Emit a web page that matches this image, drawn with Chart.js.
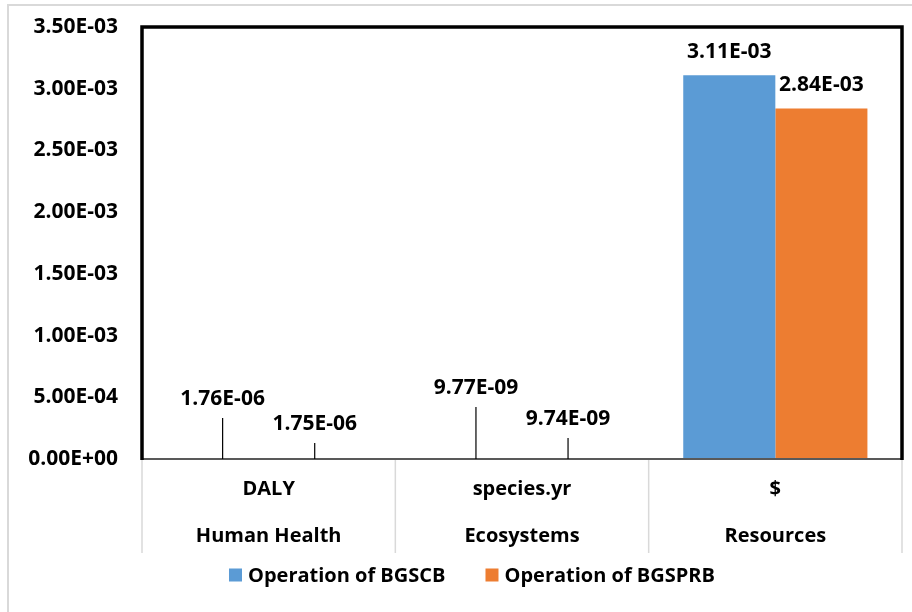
<!DOCTYPE html>
<html>
<head>
<meta charset="utf-8">
<script src="https://cdn.jsdelivr.net/npm/chart.js@4.4.1/dist/chart.umd.min.js"></script>
<style>
  html, body { margin: 0; padding: 0; background: #fff; }
</style>
</head>
<body>
<canvas id="myChart" width="912" height="612"></canvas>
<script>
const units = ['DALY', 'species.yr', '$'];
const categories = ['Human Health', 'Ecosystems', 'Resources'];
const bgscb = [1.76e-6, 9.77e-9, 3.11e-3];
const bgsprb = [1.75e-6, 9.74e-9, 2.84e-3];
const yTicks = [0, 5e-4, 1e-3, 1.5e-3, 2e-3, 2.5e-3, 3e-3, 3.5e-3];

const FONT = '"Open Sans", "Liberation Sans", sans-serif';

function sci(v) {
  if (Math.abs(v) < 1e-15) return '0.00E+00';
  let e = Math.floor(Math.log10(Math.abs(v)));
  let m = v / Math.pow(10, e);
  if (m.toFixed(2) === '10.00') { m = m / 10; e++; }
  return m.toFixed(2) + 'E' + (e < 0 ? '-' : '+') + String(Math.abs(e)).padStart(2, '0');
}

// leader-line lengths for the tiny values (px): [dataset][category]
const leaders = [[41, 52], [16, 21]];

const framePlugin = {
  id: 'frame',
  beforeDraw(chart) {
    const c = chart.ctx;
    c.save();
    c.strokeStyle = '#d9d9d9';
    c.lineWidth = 2;
    c.strokeRect(8, 5, 960, 700);
    c.restore();
  },
  afterDatasetsDraw(chart) {
    const c = chart.ctx;
    const a = chart.chartArea;
    const x = chart.scales.x;
    c.save();
    // category separators below the axis
    c.strokeStyle = '#d9d9d9';
    c.lineWidth = 1.5;
    const n = chart.data.labels.length;
    const bounds = [a.left];
    for (let i = 0; i < n - 1; i++) bounds.push((x.getPixelForTick(i) + x.getPixelForTick(i + 1)) / 2);
    bounds.push(a.right);
    bounds.forEach(b => {
      c.beginPath(); c.moveTo(b, a.bottom); c.lineTo(b, a.bottom + 94); c.stroke();
    });
    // axis line
    c.strokeStyle = '#595959';
    c.lineWidth = 2;
    c.beginPath(); c.moveTo(a.left, a.bottom); c.lineTo(a.right, a.bottom); c.stroke();
    // black frame left/top/right
    c.strokeStyle = '#000';
    c.lineWidth = 3.5;
    c.beginPath();
    c.moveTo(a.left, a.bottom + 1);
    c.lineTo(a.left, a.top);
    c.lineTo(a.right, a.top);
    c.lineTo(a.right, a.bottom + 1);
    c.stroke();

    // data labels
    c.font = 'bold 21px ' + FONT;
    c.fillStyle = '#000';
    c.textAlign = 'center';
    c.textBaseline = 'middle';
    chart.data.datasets.forEach((ds, di) => {
      const meta = chart.getDatasetMeta(di);
      meta.data.forEach((bar, i) => {
        const v = ds.data[i];
        const txt = sci(v);
        const h = a.bottom - bar.y;
        if (h > 20) {
          c.fillText(txt, bar.x, bar.y - 23);
        } else {
          const len = leaders[di][i];
          c.strokeStyle = '#000';
          c.lineWidth = 1.2;
          c.beginPath(); c.moveTo(bar.x, a.bottom); c.lineTo(bar.x, a.bottom - len); c.stroke();
          c.fillText(txt, bar.x, a.bottom - len - 19);
        }
      });
    });

    // legend
    c.font = 'bold 20px ' + FONT;
    const ly = a.bottom + 116;
    const box = 13, gap = 6, between = 40;
    const items = chart.data.datasets.map(ds => ({ t: ds.label, col: ds.backgroundColor, w: c.measureText(ds.label).width }));
    const total = items.reduce((s, it) => s + box + gap + it.w, 0) + between * (items.length - 1);
    let lx = 472 - total / 2;
    c.textAlign = 'left';
    items.forEach(it => {
      c.fillStyle = it.col;
      c.fillRect(lx, ly - box / 2, box, box);
      c.fillStyle = '#000';
      c.fillText(it.t, lx + box + gap, ly + 1);
      lx += box + gap + it.w + between;
    });
    c.restore();
  }
};

new Chart(document.getElementById('myChart'), {
  type: 'bar',
  data: {
    labels: units.map((u, i) => [u, categories[i]]),
    datasets: [{
      label: 'Operation of BGSCB',
      data: bgscb,
      backgroundColor: '#5b9bd5'
    }, {
      label: 'Operation of BGSPRB',
      data: bgsprb,
      backgroundColor: '#ed7d31'
    }]
  },
  options: {
    responsive: false,
    animation: false,
    devicePixelRatio: 1,
    categoryPercentage: 0.727,
    barPercentage: 1,
    layout: { padding: { top: 27, right: 10, left: 0, bottom: 59 } },
    plugins: {
      tooltip: { enabled: false },
      legend: { display: false }
    },
    scales: {
      x: {
        grid: { display: false, drawTicks: false },
        border: { display: false },
        ticks: {
          color: '#000',
          padding: 7,
          font: { family: FONT, size: 20, weight: 'bold', lineHeight: 2.35 }
        },
        afterFit(s) { s.height = 94; }
      },
      y: {
        min: 0,
        max: 3.5e-3,
        afterBuildTicks(s) { s.ticks = yTicks.map(v => ({ value: v })); },
        grid: { display: true, drawOnChartArea: false, drawTicks: true, tickLength: 24, tickColor: 'rgba(0,0,0,0)' },
        border: { display: false },
        ticks: {
          color: '#000',
          padding: 0,
          font: { family: FONT, size: 21, weight: 'bold' },
          callback: v => sci(v)
        },
        afterFit(s) { s.width = 142; }
      }
    }
  },
  plugins: [framePlugin]
});
</script>
</body>
</html>
